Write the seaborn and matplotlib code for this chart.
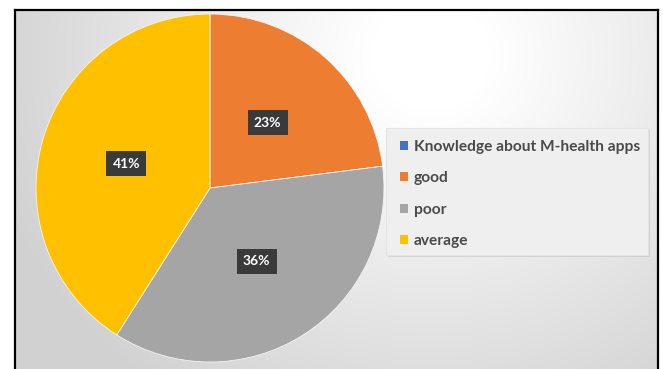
import numpy as np
import matplotlib
matplotlib.use("Agg")
import matplotlib.pyplot as plt
import seaborn as sns
from matplotlib.patches import Patch, FancyBboxPatch
import matplotlib.patheffects as pe

sns.set_theme(style="white")
plt.rcParams['font.family'] = ['Lato', 'DejaVu Sans']

# ---- data ----
categories = ["good", "poor", "average"]
values = [23, 36, 41]
legend_title_entry = "Knowledge about M-health apps"
colors = ["#ED7D31", "#A5A5A5", "#FFC000"]
title_color = "#4472C4"

W, H = 663, 369
fig = plt.figure(figsize=(W / 100, H / 100), dpi=100)
fig.patch.set_facecolor("white")

def fx(x):
    return x / W

def fy(y):
    return 1 - y / H

# ---- background frame with radial gradient ----
bx0, bx1, by0, by1 = 15, 658, 10, 369
bg = fig.add_axes([fx(bx0), fy(by1), fx(bx1 - bx0), (by1 - by0) / H])
yy, xx = np.mgrid[by0:by1, bx0:bx1]
r = np.hypot(xx - 430, (yy - 55) * 1.1)
t = np.clip((r - 60) / 400, 0, 1)
lum = 1.0 - t * (1.0 - 0.82)
img = np.dstack([lum, lum, lum])
bg.imshow(img, extent=[bx0, bx1, by1, by0], aspect="auto", interpolation="bilinear")
bg.set_xlim(bx0, bx1)
bg.set_ylim(by1, by0)
bg.set_xticks([])
bg.set_yticks([])
for s in ["left", "top", "right"]:
    bg.spines[s].set_visible(True)
    bg.spines[s].set_color("black")
    bg.spines[s].set_linewidth(1.6)
bg.spines["bottom"].set_visible(False)

# legend box
box = FancyBboxPatch((386, 128), 262, 127, boxstyle="square,pad=0",
                     fc="#efefef", ec="#e4e4e4", lw=0.8, zorder=2,
                     path_effects=[pe.withSimplePatchShadow(offset=(1.5, -1.5), shadow_rgbFace="#bdbdbd", alpha=0.5)])
bg.add_patch(box)

# ---- pie ----
cx, cy, rad = 210, 188, 174
ax = fig.add_axes([fx(cx - rad), fy(cy + rad), fx(2 * rad), 2 * rad / H])
ax.set_facecolor("none")
wedges, _, autotexts = ax.pie(
    values, colors=colors, startangle=90, counterclock=False,
    autopct=lambda p: f"{p:.0f}%", pctdistance=0.5,
    wedgeprops=dict(linewidth=0.6, edgecolor="#f5f5f5"),
    textprops=dict(color="white", fontsize=10, fontweight="bold"),
)
for t_ in autotexts:
    t_.set_bbox(dict(boxstyle="square,pad=0.45", fc="#3a3a3a", ec="none"))
ax.set_xlim(-1, 1)
ax.set_ylim(-1, 1)
ax.axis("off")

# ---- legend ----
handles = [Patch(facecolor=title_color, edgecolor="none")] + \
          [Patch(facecolor=c, edgecolor="none") for c in colors]
labels = [legend_title_entry] + categories
leg = fig.legend(handles, labels, loc="upper left",
                 bbox_to_anchor=(fx(400), fy(140)), frameon=False,
                 prop=dict(size=11.2, weight="bold"), labelcolor="#4a4a4a",
                 handlelength=0.5, handleheight=0.5, handletextpad=0.4,
                 labelspacing=1.12, borderaxespad=0, borderpad=0)

fig.savefig("out.png", dpi=100, facecolor="white")
